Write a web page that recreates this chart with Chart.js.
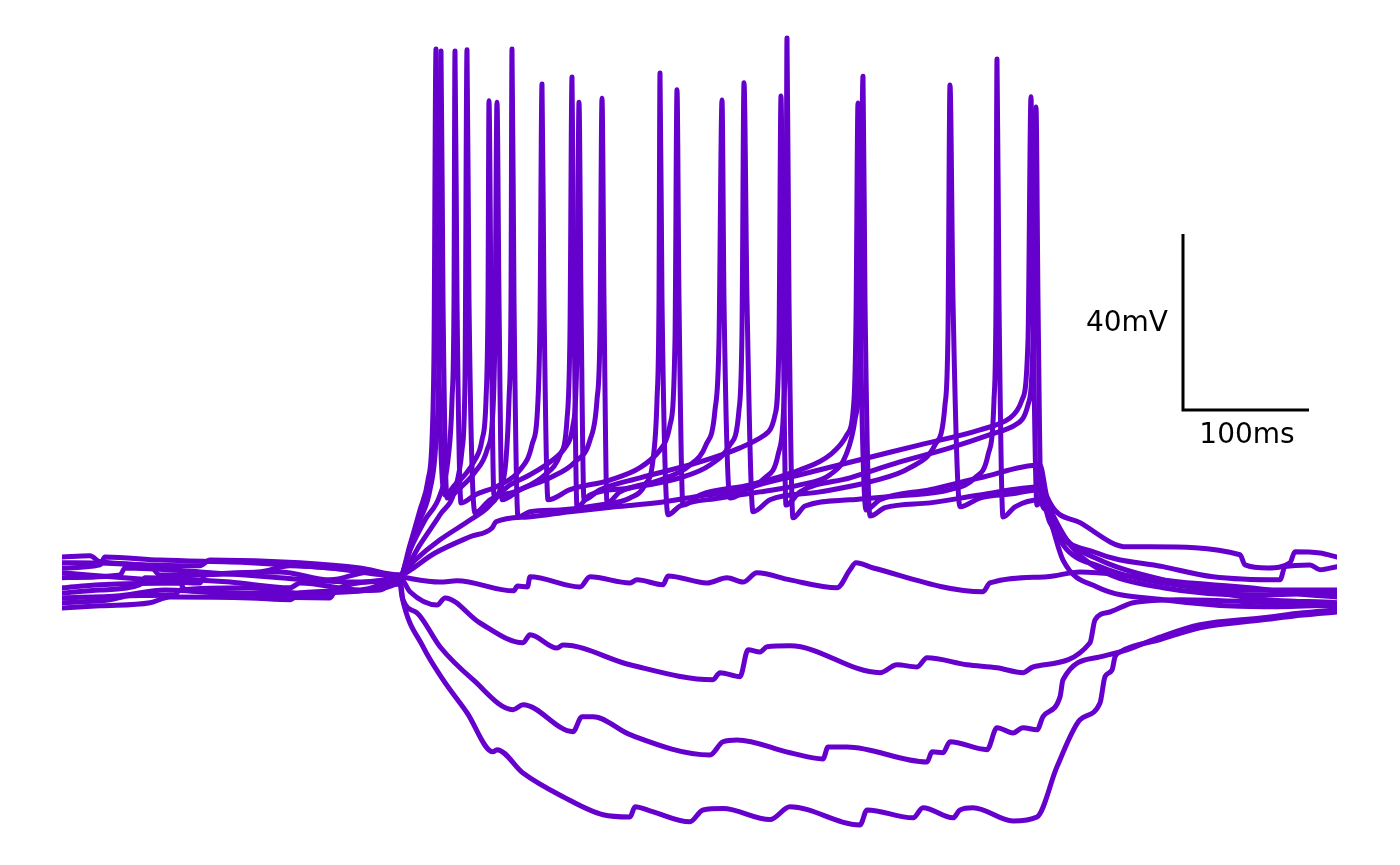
<!DOCTYPE html>
<html lang="en">
<head>
    <meta charset="UTF-8">
    <title>Current clamp sweeps</title>
    <style>
        body {
            margin: 0;
            padding: 0;
            background: #ffffff;
        }
        #wrap {
            width: 1400px;
            height: 865px;
        }
    </style>
</head>
<body>
    <div id="wrap">
        <canvas id="traces" width="1400" height="865"></canvas>
    </div>
    <script src="https://cdn.jsdelivr.net/npm/chart.js@4.4.1/dist/chart.umd.min.js"></script>
    <script>
        // each sweep: [time (ms), membrane potential (mV)]
        const sweep01 = [[0,-75.2],[38.4,-74.5],[54.4,-73.6],[90.4,-73.4],[94.4,-72.3],[150.4,-71.8],[190.4,-73.0],[230.4,-72.7],[258.4,-71.8],[270.4,-70.9],[272,-73.9],[288.8,-85.2],[304.8,-92.7],[324,-100.2],[344.8,-109.1],[348,-108.6],[368.8,-113.9],[400.8,-119.3],[432.8,-123.4],[454.4,-123.9],[458.4,-121.6],[470.4,-122.5],[502.4,-125.0],[512.8,-122.3],[528.8,-122.0],[566.4,-124.5],[582.4,-121.6],[638.4,-125.7],[644,-122.3],[680.8,-124.1],[688.8,-121.8],[712.8,-124.1],[718.4,-122.3],[728.8,-121.8],[760.8,-124.8],[780,-123.9],[796,-112.5],[814.4,-101.8],[830.4,-98.0],[834.4,-92.0],[840,-90.5],[842.4,-87.5],[846.4,-86.4],[878.4,-83.6],[910.4,-80.9],[960.8,-79.1],[992.8,-78.0],[1020,-77.3]];
        const sweep02 = [[0,-73.0],[30.4,-72.3],[62.4,-71.1],[66.4,-69.5],[134.4,-70.5],[182.4,-71.8],[190.4,-70.7],[238.4,-72.3],[270.4,-70],[272.8,-74.5],[284,-77.5],[302.4,-85.2],[328.8,-92.7],[360.8,-99.5],[368.8,-98.4],[408.8,-104.5],[416,-101.1],[424.8,-101.1],[454.4,-105.2],[518.4,-109.8],[528.8,-106.8],[540,-106.4],[582.4,-109.3],[608.8,-110.7],[612.8,-108.0],[628,-108.0],[692,-111.4],[696,-109.1],[704.8,-109.3],[710.4,-106.8],[740,-108.6],[748,-103.6],[760.8,-104.8],[768.8,-103.6],[780,-104.1],[784.8,-101.1],[798.4,-96.6],[800.8,-92.7],[830.4,-87.5],[852,-85.9],[878.4,-83.0],[910.4,-80.2],[960.8,-78.6],[992.8,-77.5],[1020,-76.8]];
        const sweep03 = [[0,-74.1],[46.4,-73.6],[82.4,-72.3],[150.4,-73.6],[214.4,-74.1],[218.4,-72.7],[254.4,-72.3],[270.4,-69.5],[278.4,-72.7],[300,-75.7],[306.4,-74.1],[334.4,-79.8],[368.8,-84.3],[374.4,-82.5],[396,-85.5],[400.8,-84.8],[454.4,-89.3],[520.8,-92.7],[526.4,-91.1],[542.4,-92.0],[548.8,-85.9],[558.4,-86.4],[564,-85.2],[582.4,-85.0],[654.4,-91.1],[668,-89.3],[684,-89.8],[692,-87.7],[724,-89.3],[748,-90.0],[768.8,-91.1],[776.8,-89.8],[822.4,-84.3],[826.4,-79.1],[838.4,-77.3],[856.8,-75.2],[894.4,-74.5],[950.4,-75.0],[990.4,-75.7],[1020,-75.9]];
        const sweep04 = [[0,-68.4],[70.4,-70],[110.4,-70.7],[114.4,-68.9],[174.4,-68.2],[214.4,-70],[246.4,-68.2],[270.4,-69.3],[302.4,-70.5],[316,-70.2],[361.2,-72.5],[364.4,-71.4],[372.4,-71.6],[374.4,-69.3],[414.4,-71.6],[422.4,-69.3],[454.4,-70.7],[460,-70],[480.8,-71.1],[484.8,-69.1],[516,-70.7],[532,-69.5],[544.8,-70.5],[556,-68.4],[582.4,-70],[620,-71.8],[630.4,-67.7],[635.2,-66.1],[649,-67.3],[736.8,-72.7],[742.4,-70.7],[788,-69.3],[814.4,-68.2],[854.4,-69.1],[894.4,-70.5],[950.4,-71.8],[990.4,-73.2],[1020,-73.9]];
        const sweep05 = [[0,-71.8],[30.4,-71.1],[94.4,-70.7],[98.4,-72.3],[158.4,-73.0],[214.4,-73.4],[222.4,-71.8],[270.4,-69.1],[298.4,-63.9],[326.4,-60.2],[344,-58.2],[347.2,-56.8],[372.8,-55.7],[406.4,-54.5],[442.4,-53.4],[480.8,-52.3],[510.4,-50.9],[542.4,-49.5],[562.4,-46.8],[572.8,-41.6],[577.6,-29.1],[579.2,-6.4],[580,53.2],[581.6,-6.4],[584.8,-55.9],[594.4,-53.2],[630.4,-51.8],[670.4,-50.9],[710.4,-49.5],[730.4,-46.8],[740.8,-41.6],[745.6,-29.1],[747.2,-6.4],[748,48.4],[749.6,-6.4],[752.8,-55.7],[762.4,-53.4],[782.4,-51.8],[790.4,-56.4],[800.8,-65.5],[828,-71.6],[880.8,-74.5],[960.8,-76.1],[1020,-75.7]];
        const sweep06 = [[0,-66.1],[70.4,-66.8],[78.4,-68.9],[158.4,-68.2],[182.4,-66.8],[230.4,-67.7],[270.4,-68.9],[282.4,-65.5],[302.4,-60.9],[326.4,-56.4],[342.4,-53.0],[350.4,-49.5],[355.2,-42.7],[357.6,-29.1],[359.2,-6.4],[360,50.7],[361.6,-6.4],[364.8,-55.7],[374.4,-54.5],[398.4,-54.1],[430.4,-53.0],[454.4,-51.4],[466.4,-48.4],[472.8,-42.7],[476,-29.1],[477.6,-6.4],[478.4,45.2],[480,-6.4],[484.8,-55.2],[494.4,-53.2],[526.4,-51.4],[558.4,-50.0],[590.4,-48.4],[614.4,-46.1],[627.2,-41.6],[634.4,-33.6],[638.4,-17.7],[640.8,44.5],[642.4,-6.4],[646.4,-55.5],[658.4,-53.6],[694.4,-52.5],[734.4,-50.7],[782.4,-48.9],[787.2,-51.8],[800.8,-59.8],[830.4,-65.5],[880.8,-70.0],[950.4,-74.1],[1020,-75.2]];
        const sweep07 = [[0,-76.4],[30.4,-75.9],[70.4,-75.2],[86.4,-73.9],[150.4,-74.1],[182.4,-74.5],[190.4,-73.0],[246.4,-72.3],[270.4,-69.5],[286.4,-62.0],[302.4,-55.2],[314.4,-49.5],[320,-40.5],[322.4,-24.5],[324,50.5],[325.6,-6.4],[330.4,-54.8],[342.4,-51.8],[366.4,-49.5],[386.4,-46.1],[398.4,-41.6],[404,-33.6],[406.4,-13.2],[408,44.3],[409.6,-6.4],[412,-53.4],[422.4,-50.7],[454.4,-49.1],[494.4,-46.8],[518.4,-43.9],[534.4,-39.3],[541.6,-31.4],[544,-13.2],[545.6,43.0],[548,-6.4],[552.8,-54.5],[566.4,-51.8],[606.4,-50.0],[646.4,-47.7],[678.4,-44.5],[698.4,-39.3],[706.4,-30.2],[708.8,-13.2],[710.4,42.5],[712.8,-6.4],[718.4,-53.4],[734.4,-51.4],[758.4,-50.5],[782.4,-49.5],[790.4,-54.1],[806.4,-62.0],[830.4,-67.7],[880.8,-71.8],[950.4,-73.4],[1020,-73.0]];
        const sweep08 = [[0,-64.8],[22.4,-64.5],[30.4,-65.9],[110.4,-66.8],[118.4,-65.5],[190.4,-66.1],[238.4,-67.3],[270.4,-68.9],[278.4,-63.2],[290.4,-56.4],[302.4,-50.7],[308.8,-42.7],[312,-29.1],[313.6,-6.4],[314.4,50.2],[316,-6.4],[319.2,-52.5],[330.4,-50.7],[350.4,-48.4],[366.4,-45.0],[376,-39.3],[380.8,-29.1],[382.4,-10.9],[384,42.7],[385.6,-6.4],[388.8,-51.8],[406.4,-49.5],[438.4,-47.3],[462.4,-44.5],[478.4,-40.5],[486.4,-34.8],[490.4,-15.5],[492,41.4],[493.6,-6.4],[496.8,-53.0],[510.4,-50.7],[550.4,-48.4],[590.4,-45.0],[614.4,-41.6],[628,-37.0],[633.6,-29.1],[635.2,-10.9],[636.8,38.4],[638.4,-6.4],[643.2,-54.1],[654.4,-51.8],[694.4,-49.5],[734.4,-46.8],[782.4,-43.9],[788,-51.1],[814.4,-57.0],[852,-62.5],[870.4,-62.5],[942.4,-64.3],[946.4,-66.6],[964.8,-67.3],[982.4,-66.1],[986.4,-63.6],[1006.4,-63.9],[1020,-64.8]];
        const sweep09 = [[0,-69.5],[46.4,-68.9],[50.4,-67.3],[110.4,-68.2],[174.4,-69.5],[230.4,-70.5],[270.4,-69.3],[278.4,-63.2],[286.4,-56.4],[294.4,-49.5],[299.2,-38.2],[301.6,-17.7],[303.2,50.2],[304.8,-6.4],[308,-51.4],[318.4,-49.1],[330.4,-45.5],[340,-40.5],[344.8,-31.4],[346.4,-13.2],[348,38.6],[349.6,-6.4],[352,-51.8],[366.4,-49.5],[390.4,-46.8],[410.4,-43.2],[422.4,-38.2],[428,-29.1],[430.4,-13.2],[432,39.5],[433.6,-6.4],[436,-52.5],[446.4,-50.0],[478.4,-47.3],[502.4,-43.9],[515.2,-39.3],[522.4,-31.4],[525.6,-15.5],[528,39.1],[529.6,-6.4],[534.4,-51.4],[550.4,-49.1],[590.4,-46.1],[638.4,-42.7],[686.4,-39.3],[734.4,-35.9],[758.4,-33.2],[768,-29.1],[772.8,-15.5],[775.2,39.8],[776.8,-6.4],[780,-53.0],[784,-51.8],[790.4,-57.0],[828,-63.9],[880.8,-67.0],[920.8,-69.3],[974.4,-70],[978.4,-67.0],[998.4,-66.6],[1006.4,-67.7],[1020,-67.0]];
        const sweep10 = [[0,-67.3],[30.4,-66.6],[34.4,-64.8],[78.4,-65.5],[150.4,-66.1],[214.4,-67.3],[270.4,-69.1],[278.4,-62.0],[286.4,-54.1],[292.8,-47.3],[296,-38.2],[297.6,-17.7],[299.2,50.7],[300.8,-6.4],[306.4,-50.7],[314.4,-48.4],[322.4,-46.1],[330.4,-42.7],[336,-38.2],[339.2,-29.1],[340.8,-6.4],[341.6,38.9],[343.2,-6.4],[345.6,-50.9],[358.4,-48.4],[374.4,-46.1],[390.4,-43.2],[402.4,-40.0],[408.8,-34.8],[412,-17.7],[413.6,38.6],[415.2,-6.4],[417.6,-51.8],[430.4,-49.5],[462.4,-46.8],[510.4,-43.2],[542.4,-40.0],[562.4,-37.0],[570.4,-32.5],[573.6,-15.5],[575.2,40.0],[576.8,-6.4],[579.2,-53.0],[590.4,-50.0],[630.4,-46.8],[670.4,-43.2],[710.4,-40.0],[742.4,-37.0],[762.4,-34.8],[772.8,-30.2],[776.8,-15.5],[779.2,37.5],[780.8,-6.4],[783.2,-51.8],[788,-54.1],[800.8,-62.0],[830.4,-67.0],[880.8,-70.7],[950.4,-72.3],[1020,-72.3]];

        const sweeps = [sweep01, sweep02, sweep03, sweep04, sweep05, sweep06, sweep07, sweep08, sweep09, sweep10];

        // scale bar corner path and its labels
        const scaleBarMs = [896.8, 896.8, 997.6];
        const scaleBarMv = [8.6, -31.4, -31.4];
        const scaleLabels = ['40mV', '100ms'];

        const traceColor = '#6600cc';

        const datasets = sweeps.map(sw => ({
            data: sw.map(p => ({ x: p[0], y: p[1] })),
            borderColor: traceColor,
            borderWidth: 5,
            pointRadius: 0,
            fill: false,
            cubicInterpolationMode: 'monotone',
            borderJoinStyle: 'round',
            borderCapStyle: 'round'
        }));

        datasets.push({
            data: scaleBarMs.map((t, i) => ({ x: t, y: scaleBarMv[i] })),
            borderColor: '#000000',
            borderWidth: 3,
            pointRadius: 0,
            fill: false,
            tension: 0,
            borderJoinStyle: 'miter'
        });

        const scaleText = {
            id: 'scaleText',
            afterDatasetsDraw(chart) {
                const ctx = chart.ctx;
                const xs = chart.scales.x;
                const ys = chart.scales.y;
                const barX = xs.getPixelForValue(scaleBarMs[0]);
                const barEnd = xs.getPixelForValue(scaleBarMs[2]);
                const barTop = ys.getPixelForValue(scaleBarMv[0]);
                const barBottom = ys.getPixelForValue(scaleBarMv[1]);
                ctx.save();
                ctx.fillStyle = '#000000';
                ctx.font = '28px "DejaVu Sans", sans-serif';
                ctx.textAlign = 'right';
                ctx.textBaseline = 'middle';
                ctx.fillText(scaleLabels[0], barX - 15, (barTop + barBottom) / 2 + 2);
                ctx.textAlign = 'center';
                ctx.textBaseline = 'top';
                ctx.fillText(scaleLabels[1], (barX + barEnd) / 2 + 1, barBottom + 12);
                ctx.restore();
            }
        };

        new Chart(document.getElementById('traces').getContext('2d'), {
            type: 'line',
            data: { datasets: datasets },
            options: {
                responsive: false,
                animation: false,
                devicePixelRatio: 1,
                layout: {
                    padding: { left: 62, right: 63, top: 30, bottom: 30 }
                },
                plugins: {
                    legend: { display: false },
                    tooltip: { enabled: false }
                },
                scales: {
                    x: { type: 'linear', min: 0, max: 1020, display: false },
                    y: { type: 'linear', min: -128, max: 55, display: false }
                }
            },
            plugins: [scaleText]
        });
    </script>
</body>
</html>
